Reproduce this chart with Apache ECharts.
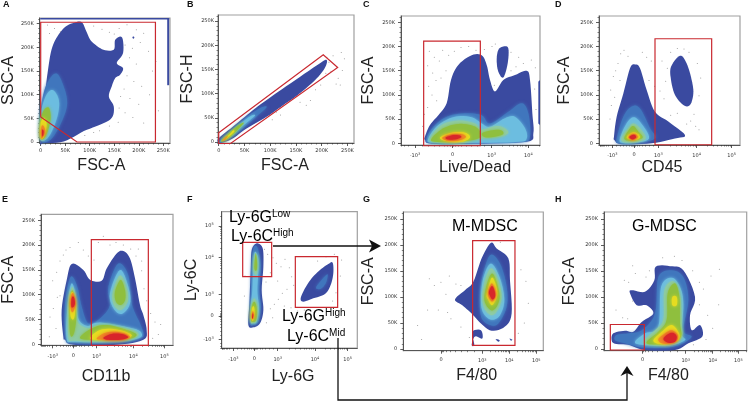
<!DOCTYPE html>
<html><head><meta charset="utf-8">
<style>html,body{margin:0;padding:0;background:#fff}#c{width:749px;height:403px}</style>
<script src="https://cdn.jsdelivr.net/npm/echarts@6/dist/echarts.min.js"></script>
</head><body><div id="c"></div>
<script>
const levelColors = ['#3a4aa0','#4076bd','#6cbde0','#8ecba6','#8fbf3e','#e6dc20','#ef8a25','#d8252a'];
const gateColor = '#c9282f';

// Contours: [density level, [[x,y],...], keepCorners]. Linear axes in thousands, log axes in display channels.
const contoursA = [
 [0,[[-1,-2],[-1,54],[7,89],[14,146],[22,195],[34,223],[51,244],[71,253],[84,253],[93,234],[101,216],[111,206],[128,195],[149,195],[152,216],[166,221],[168,188],[155,167],[168,156],[162,142],[152,135],[145,118],[139,96],[149,75],[145,51],[122,37],[88,23],[47,1],[7,-2]]],
 [0,[[187,221],[189,223],[191,221],[189,218]]],
 [1,[[-1,5],[-1,61],[10,117],[30,145],[44,125],[54,82],[41,39],[20,5]]],
 [2,[[-1,5],[-1,54],[10,96],[24,110],[37,89],[34,54],[17,12]]],
 [4,[[-1,8],[-1,44],[7,68],[17,72],[20,47],[10,12]]],
 [5,[[0,8],[0,40],[7,51],[12,37],[7,12]]],
 [6,[[1,8],[1,30],[5,35],[9,23],[5,11]]],
 [7,[[3,13],[3,26],[6,23],[5,13]]]
];
const edgeBandsA = [
 [0,[[-1,259],[262,259],[262,262],[-1,262]],true],
 [0,[[258,120],[262,120],[262,262],[258,262]],true]
];
const contoursB = [
 [0,[[0,-1],[0,8],[28,32],[61,61],[93,87],[139,121],[190,158],[209,170],[207,155],[190,131],[157,100],[125,76],[93,52],[54,28],[28,8],[9,-1]]],
 [1,[[0,1],[22,22],[54,51],[80,70],[93,72],[67,47],[35,18],[9,1]]],
 [2,[[3,1],[22,20],[48,43],[64,55],[70,54],[48,34],[22,10]]],
 [4,[[5,3],[28,26],[43,38],[48,38],[28,16],[12,3]]],
 [5,[[8,4],[22,17],[28,24],[30,21],[16,8]]],
 [6,[[8,4],[16,12],[17,11],[10,3]]]
];
const contoursC = [
 [0,[[-83,14],[-68,38],[-43,58],[-18,83],[-5,131],[17,162],[57,182],[87,182],[102,162],[112,131],[127,107],[152,131],[187,141],[222,150],[232,131],[239,62],[242,21],[222,3],[67,-1],[-63,-1],[-83,7]]],
 [0,[[137,193],[152,200],[167,196],[165,165],[152,136],[137,148],[132,172]]],
 [0,[[257,127],[262,131],[262,38],[257,41]],true],
 [1,[[-78,10],[-58,34],[-18,55],[37,62],[87,58],[112,41],[167,65],[207,83],[227,62],[232,14],[207,3],[67,0],[-63,0]]],
 [2,[[-73,10],[-43,38],[7,55],[57,54],[87,41],[112,34],[157,52],[187,55],[217,31],[222,10],[197,3],[67,1],[-58,1]]],
 [3,[[-68,10],[-33,38],[17,47],[67,41],[87,28],[137,36],[167,24],[147,14],[87,10],[17,3],[-53,3]]],
 [4,[[-63,10],[-28,31],[17,40],[62,36],[82,24],[77,10],[17,3],[-53,3]]],
 [4,[[90,22],[140,28],[150,18],[100,12]]],
 [5,[[-38,12],[-3,22],[37,22],[52,12],[27,3],[-18,4]]],
 [6,[[-31,12],[2,19],[32,18],[39,12],[17,6],[-18,6]]],
 [7,[[-21,12],[2,17],[22,16],[25,12],[7,8],[-15,8]]]
];
const contoursD = [
 [0,[[-60,14],[-52,55],[-32,103],[-12,155],[3,163],[18,155],[38,110],[63,65],[103,45],[153,17],[123,10],[53,0],[-37,-2],[-59,7]]],
 [0,[[111,158],[138,181],[158,165],[173,131],[178,103],[168,79],[148,79],[123,100],[111,131]]],
 [1,[[-52,10],[-32,55],[-7,76],[18,72],[48,31],[63,10],[3,0],[-47,0]]],
 [2,[[-42,10],[-25,38],[-2,54],[23,40],[45,10],[3,1],[-37,1]]],
 [3,[[-37,12],[-17,31],[-2,41],[18,31],[35,10],[3,3],[-32,3]]],
 [4,[[-29,12],[-15,28],[-2,36],[13,24],[26,12],[3,6],[-22,6]]],
 [5,[[-22,12],[-7,22],[8,21],[18,12],[-2,6]]],
 [6,[[-17,12],[-5,19],[6,18],[11,12],[-4,7]]],
 [7,[[-14,13],[-5,17],[3,17],[6,12],[-5,8]]]
];
const contoursE = [
 [0,[[-30,15],[-35,69],[-20,129],[-5,162],[30,150],[50,130],[85,128],[100,153],[130,183],[150,188],[170,173],[185,133],[200,79],[210,59],[220,29],[210,9],[130,-1],[0,-1],[-25,9]]],
 [1,[[-22,12],[-25,82],[-8,136],[12,116],[25,76],[45,42],[80,52],[110,79],[105,116],[135,163],[165,139],[175,82],[200,42],[210,22],[200,12],[130,3],[0,3]]],
 [2,[[-20,12],[-17,82],[-5,123],[8,96],[15,52],[42,37],[80,44],[180,32],[205,22],[195,12],[130,5],[5,5]]],
 [2,[[110,103],[140,150],[165,116],[170,82],[145,61],[120,73]]],
 [3,[[-15,15],[-13,82],[-3,116],[8,82],[12,46],[45,32],[80,39],[160,32],[195,22],[180,12],[110,7],[5,7]]],
 [3,[[118,103],[140,139],[160,113],[163,86],[142,69],[122,79]]],
 [4,[[-10,22],[-12,79],[-3,109],[7,79],[8,46],[0,19]]],
 [4,[[20,12],[55,32],[100,39],[160,29],[190,19],[160,10],[80,9]]],
 [4,[[125,106],[142,130],[155,109],[155,89],[142,79],[128,86]]],
 [5,[[-8,56],[-10,89],[-3,106],[6,82],[2,52]]],
 [5,[[50,12],[80,29],[130,30],[175,19],[150,10],[80,9]]],
 [6,[[-7,69],[-7,96],[0,103],[6,82],[0,66]]],
 [6,[[70,12],[100,24],[140,24],[170,15],[145,9],[90,9]]],
 [7,[[-6,76],[-5,93],[1,96],[5,83],[0,75]]],
 [7,[[90,13],[115,21],[145,21],[165,14],[140,9],[105,9]]]
];
const contoursF = [
 [0,[[-18,-27],[-15,38],[-11,138],[-8,198],[7,218],[25,203],[27,148],[22,78],[27,18],[17,-22],[-3,-34]]],
 [0,[[139,53],[152,83],[172,113],[197,138],[222,156],[235,160],[237,128],[229,93],[212,66],[177,53],[147,43]]],
 [1,[[185,85],[205,112],[220,125],[215,100],[200,82]]],
 [1,[[-13,-22],[-11,38],[-8,148],[-3,203],[9,206],[19,153],[15,78],[19,28],[12,-17],[-3,-27]]],
 [2,[[-11,-17],[-11,28],[-6,78],[-3,168],[3,193],[13,163],[9,78],[14,23],[7,-17],[-3,-22]]],
 [3,[[-11,-17],[-8,33],[0,53],[10,28],[7,-12],[-3,-20]]],
 [3,[[-3,138],[2,188],[9,163],[7,123]]],
 [4,[[-10,-12],[-8,28],[0,43],[7,23],[5,-12],[-5,-17]]],
 [4,[[0,143],[4,188],[8,163],[7,138]]],
 [5,[[-9,-7],[-7,23],[-1,28],[1,3],[-4,-14]]],
 [6,[[-8,-5],[-6,13],[-2,10],[-3,-10]]],
 [7,[[-7,-4],[-5,8],[-3,3],[-5,-8]]]
];
const contoursG = [
 [0,[[42,95],[72,113],[97,129],[122,174],[150,204],[167,193],[202,174],[207,132],[212,68],[192,43],[152,35],[120,49],[92,68],[64,84]]],
 [0,[[94,33],[120,36],[124,20],[102,24],[92,8],[100,8]]],
 [0,[[164,19],[176,17],[172,14]]],
 [0,[[206,20],[214,18],[210,16]]],
 [1,[[117,88],[122,132],[147,180],[177,164],[197,120],[197,81],[172,49],[147,46],[122,59]]],
 [2,[[120,94],[127,136],[150,164],[177,136],[190,94],[177,65],[152,56],[127,69]]],
 [3,[[124,100],[134,136],[152,155],[172,132],[182,100],[170,75],[152,65],[132,76]]],
 [4,[[130,100],[140,129],[154,145],[168,126],[176,100],[167,81],[152,74],[136,84]]],
 [5,[[137,104],[147,129],[155,137],[166,120],[169,104],[162,91],[152,84],[142,94]]],
 [6,[[142,110],[152,126],[162,113],[164,102],[154,91],[144,99]]],
 [7,[[144,110],[153,121],[161,111],[162,100],[154,95],[147,102]]]
];
const contoursH = [
 [0,[[-93,17],[-88,30],[-53,35],[-28,33],[-3,52],[32,68],[12,84],[-18,84],[-38,107],[-33,113],[7,110],[35,132],[39,158],[82,159],[122,151],[157,100],[142,65],[147,36],[172,46],[179,24],[137,11],[97,-2],[7,-2],[-43,8],[-83,10]]],
 [1,[[-83,17],[-78,27],[-43,30],[-3,36],[37,68],[47,138],[87,151],[122,138],[137,94],[122,36],[147,24],[117,10],[77,3],[-3,3],[-53,11]]],
 [2,[[-23,14],[7,30],[47,43],[55,119],[87,137],[112,119],[122,87],[117,30],[127,17],[77,6],[-3,8]]],
 [3,[[2,14],[37,36],[62,56],[65,113],[92,130],[112,103],[117,49],[117,24],[87,10],[27,8]]],
 [4,[[12,14],[47,33],[72,56],[75,107],[97,126],[110,100],[112,49],[115,24],[87,11],[27,9]]],
 [5,[[32,17],[57,33],[87,46],[109,30],[107,17],[82,10],[47,10]]],
 [5,[[89,100],[102,100],[102,84],[89,84]]],
 [6,[[47,19],[67,30],[87,36],[105,27],[102,16],[82,11],[57,11]]],
 [7,[[62,19],[77,29],[92,31],[102,24],[97,14],[77,12]]]
];

// Gates
const gateA = [[0,253],[234,253],[234,0],[74,0],[0,53]];
const gateB = [[0,19],[203,180],[231,154],[23,-3],[0,-3]];
const gateC = [[-87,211],[83,211],[83,-5],[-87,-5]];
const gateD = [[63,216],[233,216],[233,-3],[63,-3]];
const gateE = [[54,211],[225,211],[225,-2],[54,-2]];
const gateF1 = [[-35,221],[52,221],[52,118],[-35,118]];
const gateF2 = [[123,178],[250,178],[250,26],[123,26]];
const gateG = [[95,208],[222,208],[222,7],[95,7]];
const gateH = [[-97,47],[5,47],[5,-2],[-97,-2]];

// Sparse single events
const dotsA = [[14,247],[28,240],[40,233],[18,229],[108,245],[125,238],[140,232],[160,240],[176,248],[195,237],[210,230],[150,228],[172,205],[187,198],[203,210],[181,178],[195,165],[220,192],[228,150],[176,140],[190,128],[206,118],[170,112],[163,96],[182,92],[200,80],[222,100],[160,72],[172,62],[188,52],[158,42],[140,34],[120,24],[108,20],[90,14],[240,66],[210,40],[235,170]];
const dotsB = [[210,175],[222,178],[238,185],[214,165],[225,160],[240,148],[232,132],[228,120],[236,118],[208,142],[198,118],[188,108],[178,86],[170,76],[158,82],[120,56],[104,46],[112,62],[198,158],[244,172],[218,146]];
const dotsC = [[-70,190],[-55,178],[-40,170],[-75,160],[-60,145],[-50,130],[-72,118],[-62,100],[-48,88],[-75,74],[-30,192],[-12,182],[5,190],[25,198],[48,200],[70,192],[95,194],[118,200],[128,205],[175,188],[198,178],[212,165],[236,172],[248,156],[246,112],[250,70],[175,150],[190,158],[125,120],[-20,150],[-85,60],[-90,35],[-35,135]];
const dotsD = [[-40,185],[-30,192],[-18,180],[-48,165],[-55,150],[-62,138],[-42,130],[-70,110],[-58,95],[-68,78],[-72,50],[25,188],[38,178],[52,170],[45,130],[62,118],[78,108],[90,92],[95,128],[100,155],[84,170],[110,188],[130,196],[150,195],[165,188],[190,165],[200,135],[195,98],[180,60],[170,46],[158,40],[130,62],[110,58],[185,35],[195,28]];
const dotsE = [[-62,128],[-50,145],[-40,168],[-30,180],[-22,190],[-10,195],[15,205],[30,190],[45,178],[62,170],[75,205],[90,218],[110,200],[128,205],[150,200],[172,192],[188,178],[205,148],[212,112],[220,88],[232,62],[245,45],[262,40],[255,20],[238,12],[-60,72],[-70,55],[-52,32],[-72,15],[-48,95],[205,168],[195,192],[-40,98]];
const dotsF = [[30,200],[40,185],[56,175],[66,158],[80,148],[92,170],[105,145],[112,118],[118,92],[98,80],[84,68],[72,50],[60,35],[48,22],[90,30],[110,25],[130,15],[150,18],[190,165],[215,178],[240,185],[262,168],[258,120],[245,70],[235,45],[-28,120],[-30,60],[35,102],[48,130],[70,105],[36,-20],[55,-5]];
const dotsG = [[-70,45],[-58,18],[-40,75],[-35,135],[-20,122],[0,128],[-8,75],[20,70],[15,105],[30,58],[45,125],[25,140],[60,122],[240,152],[255,130],[262,88],[250,50],[232,30],[85,22],[60,42],[178,205]];
const dotsH = [[-80,75],[-60,60],[-45,58],[-30,92],[-55,132],[-30,160],[-42,128],[-22,145],[10,138],[20,150],[60,175],[95,178],[118,170],[150,150],[170,128],[182,115],[205,140],[230,153],[170,85],[195,65],[210,40],[228,85],[190,18],[152,8]];

// Axis ticks
const kTicks = [0,50,100,150,200,250];
const kMinor = [10,20,30,40,60,70,80,90,110,120,130,140,160,170,180,190,210,220,230,240,260];
const kLabels = ['0','50K','100K','150K','200K','250K'];
const decadeTicksC = [[-113,'-10|3'],[0,'0'],[117,'10|3'],[227,'10|4']];
const decadeTicksD = [[-65,'-10|3'],[0,'0'],[73,'10|3'],[188,'10|4'],[293,'10|5']];
const decadeTicksE = [[-62,'-10|3'],[0,'0'],[70,'10|3'],[180,'10|4'],[273,'10|5']];
const decadeTicksFx = [[-63,'-10|3'],[0,'0'],[70,'10|3'],[182,'10|4'],[280,'10|5']];
const decadeTicksFy = [[-70,'-10|3'],[0,'0'],[64,'10|3'],[176,'10|4'],[270,'10|5']];
const decadeTicksG = [[0,'0'],[124,'10|3'],[205,'10|4'],[286,'10|5']];
const decadeTicksH = [[0,'0'],[129,'10|3'],[210,'10|4'],[287,'10|5']];

const panels = [
 {c:contoursA.concat(edgeBandsA),g:[gateA],d:dotsA,box:[39,170,18,143],x:[-2,263.7],y:[-2.1,262],xt:null,yt:null,xn:'FSC-A',yn:'SSC-A',xg:15,yg:22,dx:-3.5,ml:6,mb:5},
 {c:contoursB,g:[gateB],d:dotsB,box:[218,354,15,143],x:[-1.4,262.7],y:[-2,262.4],xt:null,yt:null,xn:'FSC-A',yn:'FSC-H',xg:15,yg:22,dx:-1,ml:4,mb:5},
 {c:contoursC,g:[gateC],d:dotsC,box:[401,540,16,145],x:[-155,262],y:[-3.5,263],xt:decadeTicksC,yt:null,xn:'Live/Dead',yn:'FSC-A',xg:15,yg:24,dx:4.5,ml:6,mb:7},
 {c:contoursD,g:[gateD],d:dotsD,box:[599,740,16,145],x:[-105,318],y:[-3.5,263],xt:decadeTicksD,yt:null,xn:'CD45',yn:'FSC-A',xg:15,yg:26,dx:-7.5,ml:6,mb:7},
 {c:contoursE,g:[gateE],d:dotsE,box:[41,173,214.3,345.3],x:[-97,299],y:[-2,262],xt:decadeTicksE,yt:null,xn:'CD11b',yn:'FSC-A',xg:23,yg:24,dx:-1,ml:6,mb:8},
 {c:contoursF,g:[gateF1,gateF2],d:dotsF,box:[221.7,357.3,211.7,348],x:[-98,309],y:[-96,313],xt:decadeTicksFx,yt:decadeTicksFy,xn:'Ly-6G',yn:'Ly-6C',xg:21,yg:22,dx:3.5,ml:8,mb:8},
 {c:contoursG,g:[gateG],d:dotsG,box:[403.3,543.3,212,350.7],x:[-113,307],y:[-3.3,263],xt:decadeTicksG,yt:null,xn:'F4/80',yn:'FSC-A',xg:17,yg:27,dx:3.5,ml:6,mb:7},
 {c:contoursH,g:[gateH],d:dotsH,box:[604,746.7,212,350.7],x:[-116,312],y:[-3.3,263],xt:decadeTicksH,yt:null,xn:'F4/80',yn:'FSC-A',xg:17,yg:26,dx:-7,ml:6,mb:7}
];

function decadeMinor(t, lo, hi){
  const out = [];
  const pos = t.map(a=>a[0]);
  for(let i=0;i<pos.length-1;i++){
    const a=pos[i], b=pos[i+1];
    for(let k=2;k<10;k++){
      if(a===0 || b===0){
        const z = a===0 ? b : a;
        out.push(z*Math.pow((k-1)/9,1.8));
      } else if(a>0){
        out.push(a+(b-a)*Math.log10(k));
      } else {
        out.push(b+(a-b)*Math.log10(k));
      }
    }
  }
  const step=pos[pos.length-1]-pos[pos.length-2];
  for(let k=2;k<10;k++){ const v=pos[pos.length-1]+step*Math.log10(k); if(v<hi) out.push(v);}
  if(pos[0]<0){ for(let k=2;k<10;k++){ const v=pos[0]-(pos[1]-pos[0])*Math.log10(k)*0.6; if(v>lo) out.push(v);} }
  return out;
}
const rich = {
  b:{fontSize:5,fontFamily:'DejaVu Sans',color:'#333'},
  s:{fontSize:3.5,fontFamily:'DejaVu Sans',color:'#333',padding:[0,0,3,0]}
};
function makeAxis(dim, idx, p, ext, t, name, gap, margin, dx){
  const vals = t ? t.map(a=>a[0]) : kTicks;
  const labs = t ? t.map(a=>a[1]) : kLabels;
  const minorVals = t ? decadeMinor(t, ext[0], ext[1]) : kMinor;
  const pos = dim==='x' ? 'bottom' : 'left';
  const main = {
    type:'value', gridIndex:idx, min:ext[0], max:ext[1], position:pos, scale:false,
    name:name, nameLocation:'middle', nameGap:gap,
    nameTextStyle:{fontFamily:'Liberation Sans',fontSize:16,color:'#222',
      padding: dim==='x' ? (dx>0?[0,0,0,2*dx]:[0,-2*dx,0,0]) : 0},
    axisLine:{show:true,onZero:false,lineStyle:{color:'#555',width:1}},
    axisTick:{show:true,length:3,customValues:vals,lineStyle:{color:'#333',width:0.8}},
    axisLabel:{show:true,margin:margin,customValues:vals,fontSize:5,fontFamily:'DejaVu Sans',color:'#333',
      hideOverlap:false,showMinLabel:true,showMaxLabel:true,rich:rich,
      formatter:function(v){
        const i = vals.findIndex(a=>Math.abs(a-v)<1e-6);
        if(i<0) return '';
        const s = labs[i];
        if(s.indexOf('|')<0) return '{b|'+s+'}';
        const q = s.split('|');
        return '{b|'+q[0]+'}{s|'+q[1]+'}';
      }},
    splitLine:{show:false}, minorTick:{show:false}
  };
  const minor = {
    type:'value', gridIndex:idx, min:ext[0], max:ext[1], position:pos,
    axisLine:{show:false,onZero:false},
    axisTick:{show:true,length:1.5,customValues:minorVals,lineStyle:{color:'#333',width:0.6}},
    axisLabel:{show:false}, splitLine:{show:false}
  };
  return [main, minor];
}
// Closed Catmull-Rom outline through the projected points, so contours pass through the read values.
function roundOutline(pts){
  const n=pts.length, out=[];
  for(let i=0;i<n;i++){
    const a=pts[(i-1+n)%n], b=pts[i], c=pts[(i+1)%n], d=pts[(i+2)%n];
    for(let s=0;s<6;s++){
      const t=s/6, t2=t*t, t3=t2*t;
      out.push([0,1].map(k=>0.5*(2*b[k]+(c[k]-a[k])*t+(2*a[k]-5*b[k]+4*c[k]-d[k])*t2+(3*b[k]-a[k]-3*c[k]+d[k])*t3)));
    }
  }
  return out;
}
const registry = {};
function polyRender(kind, level, corners){
  return function(params, api){
    if(params.dataIndex!==0) return null;
    const pts = registry[params.seriesName].map(p=>api.coord(p));
    if(kind==='gate'){
      return {type:'polygon',shape:{points:pts},style:{fill:'none',stroke:gateColor,lineWidth:1.2},silent:true};
    }
    const st = {fill:levelColors[level]};
    if(level>0){ st.shadowBlur=3.5; st.shadowColor=levelColors[level]; }
    return {type:'polygon',shape:{points:corners?pts:roundOutline(pts)},style:st,silent:true};
  };
}

const grids=[],xAxes=[],yAxes=[],series=[];
let sn=0;
panels.forEach((p,i)=>{
  const b=p.box;
  grids.push({left:b[0],top:b[2],width:b[1]-b[0],height:b[3]-b[2],show:true,borderColor:'#a0a0a0',borderWidth:1.2,backgroundColor:'transparent',containLabel:false});
  xAxes.push(...makeAxis('x',i,p,p.x,p.xt,p.xn,p.xg,p.mb,p.dx));
  yAxes.push(...makeAxis('y',i,p,p.y,p.yt,p.yn,p.yg,p.ml,0));
  const xi=2*i, yi=2*i;
  p.c.slice().sort((a,b)=>a[0]-b[0]).forEach(c=>{
    const name='s'+(sn++);
    registry[name]=c[1];
    series.push({type:'custom',name,coordinateSystem:'cartesian2d',xAxisIndex:xi,yAxisIndex:yi,clip:false,silent:true,z:2+c[0]*0.01,
      data:c[1],encode:{x:0,y:1},renderItem:polyRender('fill',c[0],c[2]),animation:false});
  });
  series.push({type:'scatter',xAxisIndex:xi,yAxisIndex:yi,data:p.d,symbolSize:1,silent:true,z:3,
    itemStyle:{color:'#555',opacity:0.65},animation:false});
  p.g.forEach(g=>{
    const name='s'+(sn++);
    registry[name]=g;
    series.push({type:'custom',name,coordinateSystem:'cartesian2d',xAxisIndex:xi,yAxisIndex:yi,clip:false,silent:true,z:4,
      data:g,encode:{x:0,y:1},renderItem:polyRender('gate',0),animation:false});
  });
});

// Panel letters, annotations and arrows
const letters = [['A',3,5],['B',187,5],['C',363,5],['D',555,5],['E',2,200],['F',187,200],['G',363,200],['H',555,200]];
const noteRich = {
  m:{fontFamily:'Liberation Sans',fontSize:16,color:'#222'},
  s:{fontFamily:'Liberation Sans',fontSize:10,color:'#222',padding:[0,0,8,0]}
};
const notes = [
  ['{m|Ly-6G}{s|Low}',229,218],['{m|Ly-6C}{s|High}',231,237],
  ['{m|Ly-6G}{s|High}',282,317],['{m|Ly-6C}{s|Mid}',287,337],
  ['{m|M-MDSC}',452,227],['{m|G-MDSC}',632,227]
];
const graphic = [];
letters.forEach(l=>graphic.push({type:'text',x:l[1],y:l[2],z:20,style:{text:l[0],fontFamily:'Liberation Sans',fontWeight:'bold',fontSize:9,fill:'#111',verticalAlign:'middle'}}));
notes.forEach(n=>graphic.push({type:'text',x:n[1],y:n[2],z:20,style:{text:n[0],rich:noteRich,verticalAlign:'middle',align:'left'}}));
graphic.push({type:'polyline',z:19,shape:{points:[[273,246],[374,246]]},style:{stroke:'#111',lineWidth:1.3,fill:'none'}});
graphic.push({type:'polygon',z:19,shape:{points:[[381,246],[369,239.5],[372,246],[369,252.5]]},style:{fill:'#111'}});
graphic.push({type:'polyline',z:19,shape:{points:[[338,338],[338,400],[627,400],[627,373]]},style:{stroke:'#111',lineWidth:1.3,fill:'none'}});
graphic.push({type:'polygon',z:19,shape:{points:[[627,366],[620.5,376],[627,373],[633.5,376]]},style:{fill:'#111'}});

const chart = echarts.init(document.getElementById('c'),null,{renderer:'canvas'});
chart.setOption({animation:false,backgroundColor:'#fff',grid:grids,xAxis:xAxes,yAxis:yAxes,series,graphic,tooltip:{show:false},legend:{show:false}});
</script></body></html>
